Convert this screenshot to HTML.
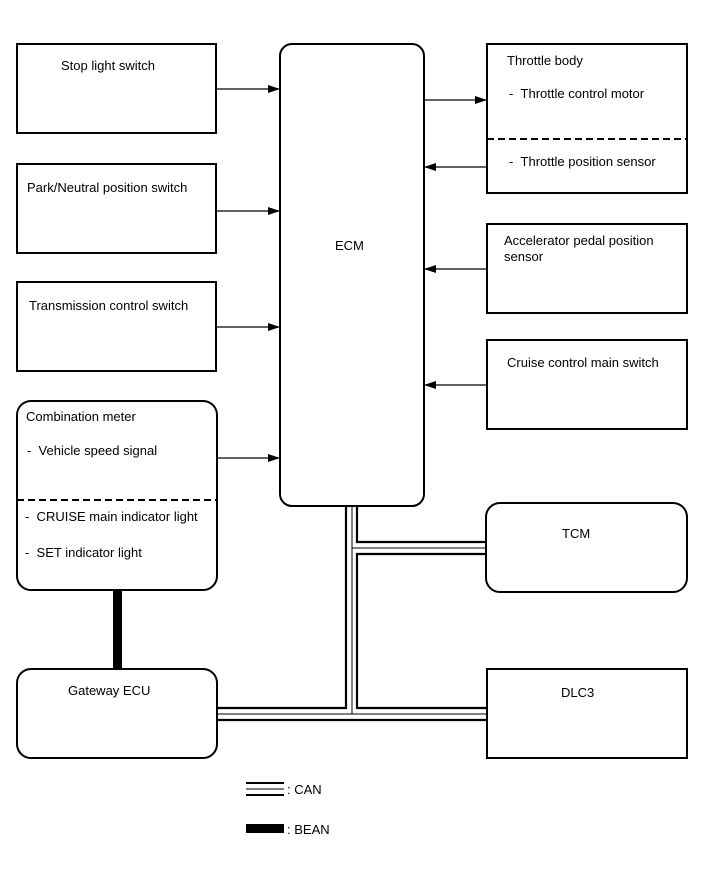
<!DOCTYPE html>
<html><head><style>body{margin:0;background:#fff}svg{display:block}text{font-family:"Liberation Sans",Arial,sans-serif;font-size:13px;fill:#000}</style></head>
<body>
<svg width="713" height="882" viewBox="0 0 713 882" xmlns="http://www.w3.org/2000/svg">
<defs><marker id="a" markerWidth="12" markerHeight="8" refX="12" refY="4" orient="auto" markerUnits="userSpaceOnUse"><path d="M0,0 L12,4 L0,8 Z" fill="#000"/></marker></defs>
<g fill="none" stroke="#000" stroke-width="2">
<rect x="17" y="44" width="199" height="89"/>
<rect x="17" y="164" width="199" height="89"/>
<rect x="17" y="282" width="199" height="89"/>
<rect x="17" y="401" width="200" height="189" rx="14"/>
<rect x="17" y="669" width="200" height="89" rx="14"/>
<rect x="280" y="44" width="144" height="462" rx="12"/>
<rect x="487" y="44" width="200" height="149"/>
<rect x="487" y="224" width="200" height="89"/>
<rect x="487" y="340" width="200" height="89"/>
<rect x="486" y="503" width="201" height="89" rx="14"/>
<rect x="487" y="669" width="200" height="89"/>
<line x1="17" y1="500" x2="217" y2="500" stroke-dasharray="7,4"/>
<line x1="487" y1="139" x2="687" y2="139" stroke-dasharray="7,4"/>
</g>
<g stroke="#000" stroke-width="1.3" marker-end="url(#a)">
<line x1="217" y1="89" x2="280" y2="89"/>
<line x1="217" y1="211" x2="280" y2="211"/>
<line x1="217" y1="327" x2="280" y2="327"/>
<line x1="217" y1="458" x2="280" y2="458"/>
<line x1="424" y1="100" x2="487" y2="100"/>
<line x1="487" y1="167" x2="424" y2="167"/>
<line x1="487" y1="269" x2="424" y2="269"/>
<line x1="487" y1="385" x2="424" y2="385"/>
</g>
<rect x="113" y="590" width="9" height="79" fill="#000"/>
<g fill="none" stroke="#000">
<path d="M346,506 V708 H217" stroke-width="2.2"/>
<path d="M352,506 V714 M217,714 H487 M352,548 H486" stroke-width="1"/>
<path d="M357,506 V542 H486" stroke-width="2.2"/>
<path d="M486,554 H357 V708 H487" stroke-width="2.2"/>
<path d="M217,720 H487" stroke-width="2.2"/>
<path d="M246,783 H284 M246,795 H284" stroke-width="2"/>
<path d="M246,789 H284" stroke-width="1"/>
</g>
<rect x="246" y="824" width="38" height="9" fill="#000"/>
<text x="61" y="70">Stop light switch</text>
<text x="27" y="192">Park/Neutral position switch</text>
<text x="29" y="310">Transmission control switch</text>
<text x="26" y="421">Combination meter</text>
<text x="27" y="455">-&#160;&#160;Vehicle speed signal</text>
<text x="25" y="521">-&#160;&#160;CRUISE main indicator light</text>
<text x="25" y="557">-&#160;&#160;SET indicator light</text>
<text x="68" y="695">Gateway ECU</text>
<text x="335" y="250">ECM</text>
<text x="507" y="65">Throttle body</text>
<text x="509" y="98">-&#160;&#160;Throttle control motor</text>
<text x="509" y="166">-&#160;&#160;Throttle position sensor</text>
<text x="504" y="245">Accelerator pedal position</text>
<text x="504" y="261">sensor</text>
<text x="507" y="367">Cruise control main switch</text>
<text x="562" y="538">TCM</text>
<text x="561" y="697">DLC3</text>
<text x="287" y="794">: CAN</text>
<text x="287" y="834">: BEAN</text>
</svg>
</body></html>
